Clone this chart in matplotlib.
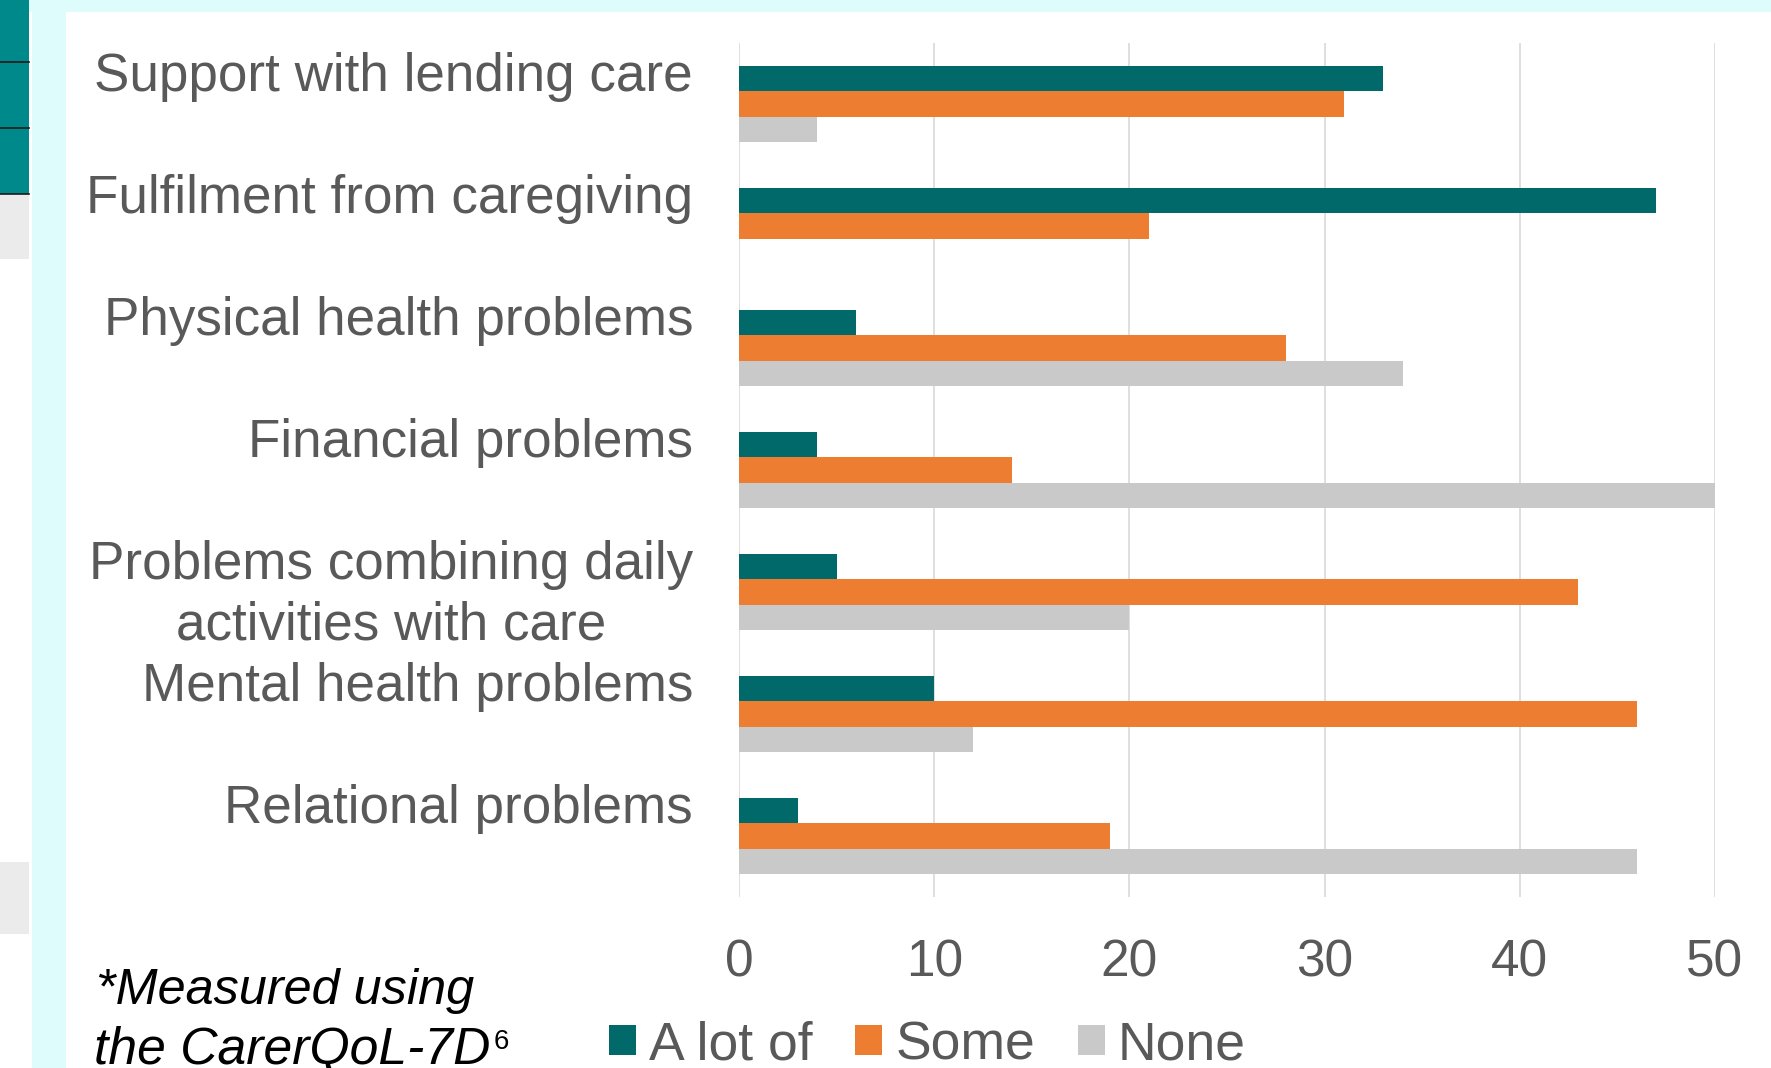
import matplotlib
matplotlib.use('Agg')
import matplotlib.pyplot as plt
from matplotlib.patches import Rectangle
import numpy as np

# data
categories = ['Support with lending care', 'Fulfilment from caregiving',
              'Physical health problems', 'Financial problems',
              'Problems combining daily\nactivities with care',
              'Mental health problems', 'Relational problems']
a_lot_of = [33, 47, 6, 4, 5, 10, 3]
some = [31, 21, 28, 14, 43, 46, 19]
none = [4, 0, 34, 50, 20, 12, 46]
series_names = ['A lot of', 'Some', 'None']
xticks = [0, 10, 20, 30, 40, 50]

colors = ['#02696A', '#ED7D31', '#C9C9C9']
text_grey = '#595959'

plt.rcParams['font.family'] = ['Liberation Sans', 'DejaVu Sans']

W, H = 1771, 1068
fig = plt.figure(figsize=(W / 100, H / 100), dpi=100)
fig.patch.set_facecolor('white')


def px_rect(x0, y0, x1, y1, color):
    # rectangle in pixel coords measured from the top-left corner
    r = Rectangle((x0 / W, 1 - y1 / H), (x1 - x0) / W, (y1 - y0) / H,
                  transform=fig.transFigure, facecolor=color, edgecolor='none', zorder=0)
    fig.add_artist(r)


# slide decoration around the chart
px_rect(32, 0, 66, H, '#DFFCFC')
px_rect(28, 0, W, 12, '#DFFCFC')
px_rect(0, 0, 29, 194, '#00898A')
px_rect(0, 194, 29, 259, '#EBEBEB')
px_rect(0, 862, 29, 934, '#EBEBEB')
for yy in [62, 128, 194]:
    fig.add_artist(plt.Line2D([0, 29 / W], [1 - yy / H, 1 - yy / H],
                              transform=fig.transFigure, color='#1a1a1a', lw=1.2))

ax = fig.add_axes([739 / W, 1 - 897 / H, (1715 - 739) / W, (897 - 43) / H])
ax.set_facecolor('none')

y = np.arange(len(categories))
h = 0.208
handles = []
for k, (vals, c) in enumerate(zip([a_lot_of, some, none], colors)):
    b = ax.barh(y + (k - 1) * h, vals, height=h, color=c, zorder=3)
    handles.append(b)

ax.set_xlim(0, 50)
ax.set_ylim(len(categories) - 0.5, -0.5)
ax.set_xticks(xticks)
ax.set_xticklabels([str(t) for t in xticks])
ax.tick_params(axis='x', length=0, pad=30, labelsize=37, labelcolor=text_grey)
ax.set_yticks([])
ax.grid(axis='x', color='#D9D9D9', lw=1.2, zorder=0)
for s in ax.spines.values():
    s.set_visible(False)

# category labels, first line sits a little above the category centre,
# a wrapped second line is centred under the first one
for i, lab in enumerate(categories):
    lines = lab.split('\n')
    t1 = ax.text(-46 / (1715 - 739), i - 0.225, lines[0],
                 transform=ax.get_yaxis_transform(), ha='right', va='center',
                 fontsize=38.2, color=text_grey)
    for j, line in enumerate(lines[1:], start=1):
        ax.annotate(line, xy=(0.5, 0), xycoords=t1, xytext=(0, -43.9 * j),
                    textcoords='offset points', ha='center', va='bottom',
                    fontsize=38.2, color=text_grey)

fig.legend(handles, series_names, loc='center left',
           bbox_to_anchor=(609 / W, 1 - 1045 / H), ncol=3, frameon=False,
           fontsize=38.5, labelcolor=text_grey, handlelength=0.5, handleheight=0.5,
           handletextpad=0.25, columnspacing=0.8, borderpad=0, borderaxespad=0)

fig.text(96 / W, 1 - 991 / H, '*Measured using', fontsize=36.3, style='italic',
         ha='left', va='center', color='black')
note2 = fig.text(94 / W, 1 - 1050 / H, 'the CarerQoL-7D', fontsize=37.2, style='italic',
                 ha='left', va='center', color='black')
fig.add_artist(plt.Annotation('6', xy=(1, 0.93), xycoords=note2, xytext=(2, 0),
                              textcoords='offset points', ha='left', va='top',
                              fontsize=20, color='black'))

fig.savefig('out.png', dpi=100)
